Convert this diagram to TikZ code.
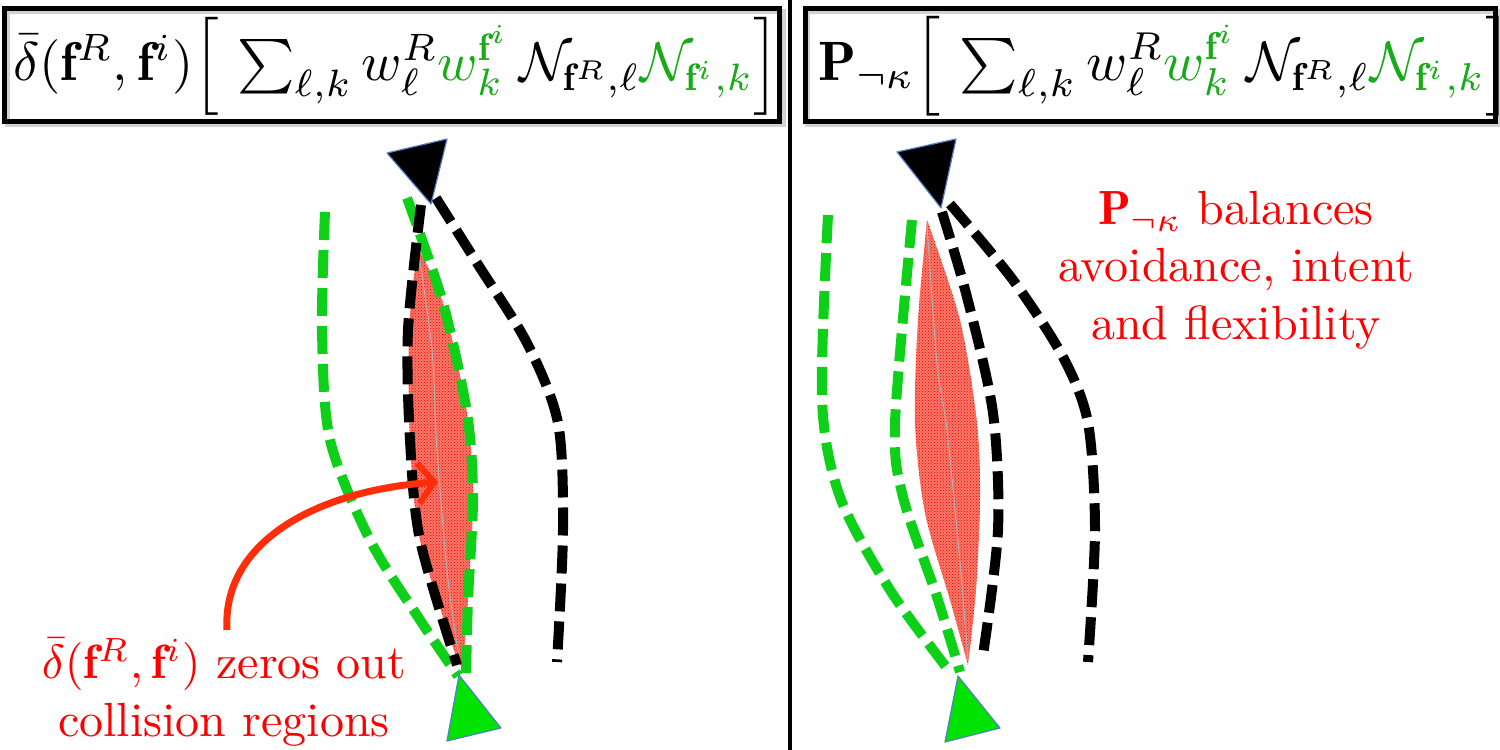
\documentclass[tikz,border=0pt]{standalone}
\usepackage{amsmath}
\usepackage{fontspec}
\usetikzlibrary{arrows.meta,patterns}
\definecolor{fgreen}{RGB}{25,170,25}
\definecolor{lgreen}{RGB}{15,208,25}
\definecolor{tgreen}{RGB}{0,226,0}
\definecolor{ared}{RGB}{255,45,10}
\definecolor{tblue}{RGB}{85,125,200}
\definecolor{lensred}{RGB}{245,120,105}
\newcommand{\hdrsum}{\Big[\,\sum_{\ell,k} w^R_\ell\textcolor{fgreen}{w^{\mathbf{f}^i}_k}\,\mathcal{N}_{\mathbf{f}^R,\ell}\textcolor{fgreen}{\mathcal{N}_{\mathbf{f}^i,k}}\Big]}
\begin{document}
\begin{tikzpicture}[x=1pt,y=-1pt,
  dashline/.style={line width=10pt, dash pattern=on 28pt off 10pt},
  gpath/.style={dashline, draw=lgreen},
  kpath/.style={dashline, draw=black},
  hdrbox/.style={draw, line width=5pt, inner sep=0pt},
  shadowbox/.style={draw=gray!35, line width=5pt},
  hdrtext/.style={inner sep=0pt, scale=#1, transform shape},
  note/.style={text=red, align=center, inner sep=0pt, scale=4.8, transform shape},
  tri/.style={draw=tblue, line width=1.2pt, line join=round},
  lensfill/.style={fill=lensred},
  lenspat/.style={pattern=crosshatch dots, pattern color=red},
  lensmid/.style={draw=gray!60, line width=1pt}]
\useasboundingbox (0,0) rectangle (1500,750);
\fill[white] (0,0) rectangle (1500,750);

% divider
\draw[line width=4.5pt] (790,0) -- (790,750);

% headers
\draw[shadowbox] (7,11) rectangle (783,124);
\draw[shadowbox] (807,11) rectangle (1498,124);
\node[hdrbox, minimum width=775pt, minimum height=113pt] (boxL) at (392,64.5) {};
\node[hdrbox, minimum width=690pt, minimum height=113pt] (boxR) at (1150,64.5) {};
\node[hdrtext=5.45, anchor=base west] (hdrL) at (12,80)
 {$\bar{\delta}(\mathbf{f}^R,\mathbf{f}^i)\hdrsum$};
\node[hdrtext=5.55, anchor=base west] (hdrR) at (817,80)
 {$\mathbf{P}_{\neg\kappa}\hdrsum$};

% ---------- left panel ----------
\path[lensfill] plot[smooth] coordinates {(417,252) (409,330) (410,440) (420,540) (459,665)}
  -- plot[smooth] coordinates {(463,665) (468,600) (473,497) (467,413) (443,303) (420,252)} -- cycle;
\path[lenspat] plot[smooth] coordinates {(417,252) (409,330) (410,440) (420,540) (459,665)}
  -- plot[smooth] coordinates {(463,665) (468,600) (473,497) (467,413) (443,303) (420,252)} -- cycle;
\draw[lensmid] plot[smooth] coordinates {(419,255) (432,350) (437,450) (448,580) (460,663)};

\draw[gpath] plot[smooth] coordinates {(325,212) (322,330) (330,440) (370,540) (420,620) (458,676)};
\draw[gpath] plot[smooth] coordinates {(407,198) (443,303) (467,413) (473,497) (468,600) (466,676)};
\draw[kpath] plot[smooth] coordinates {(421,205) (408,330) (410,440) (420,540) (457,665)};
\draw[kpath] plot[smooth] coordinates {(436,198) (477,263) (527,343) (558,423) (563,530) (557,662)};

\fill[black, tri] (387,153) -- (447,139) -- (431,204) -- cycle;
\fill[tgreen, tri] (459,675) -- (501,728) -- (447,741) -- cycle;

\node[note] (noteL) at (224,692)
 {$\bar{\delta}(\mathbf{f}^R,\mathbf{f}^i)$ zeros out\\collision regions};
\coordinate (arrTip) at (438,482);
\draw[ared, line width=7pt, -{Straight Barb[length=16pt,width=40pt,line width=6pt]}]
  (227,630) .. controls (222,540) and (320,490) .. (arrTip);

% ---------- right panel ----------
\path[lensfill] plot[smooth] coordinates {(927,220) (918,320) (915,423) (925,513) (950,600) (968,665)}
  -- plot[smooth] coordinates {(968,665) (976,590) (980,500) (977,423) (960,320) (927,220)} -- cycle;
\path[lenspat] plot[smooth] coordinates {(927,220) (918,320) (915,423) (925,513) (950,600) (968,665)}
  -- plot[smooth] coordinates {(968,665) (976,590) (980,500) (977,423) (960,320) (927,220)} -- cycle;
\draw[lensmid] plot[smooth] coordinates {(927,225) (937,363) (947,430) (960,563) (968,660)};

\draw[gpath] plot[smooth] coordinates {(828,215) (822,400) (840,497) (890,590) (950,672)};
\draw[gpath] plot[smooth] coordinates {(912,220) (895,423) (903,497) (937,597) (960,672)};
\draw[kpath] plot[smooth] coordinates {(942,212) (967,297) (993,413) (998,530) (983,655)};
\draw[kpath] plot[smooth] coordinates {(950,204) (1013,280) (1063,357) (1088,423) (1095,530) (1088,662)};

\fill[black, tri] (897,152) -- (956,139) -- (941,208) -- cycle;
\fill[tgreen, tri] (958,676) -- (1000,728) -- (945,742) -- cycle;

\node[note] (noteR) at (1236,270)
 {$\mathbf{P}_{\neg\kappa}$ balances\\avoidance, intent\\and flexibility};
\end{tikzpicture}
\end{document}
